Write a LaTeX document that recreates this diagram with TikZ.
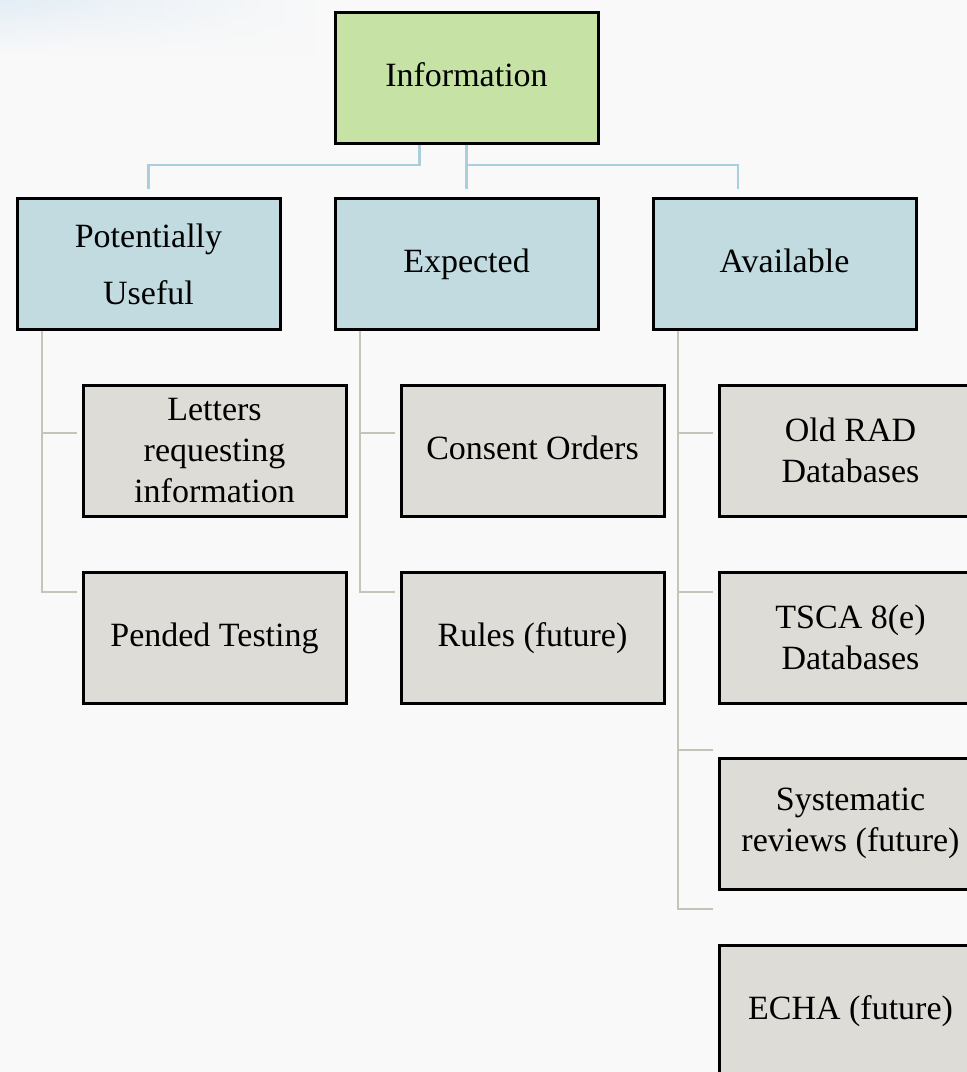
\documentclass[tikz,border=0pt]{standalone}
\usepackage{fontspec}
\setmainfont{Liberation Serif}
\usepackage{tikz}
\usetikzlibrary{calc,fadings}

\definecolor{bgcol}{RGB}{249,249,249}
\definecolor{topfill}{RGB}{198,226,165}
\definecolor{midfill}{RGB}{193,219,225}
\definecolor{leaffill}{RGB}{221,220,214}
\definecolor{bluelinkcol}{RGB}{168,207,218}
\definecolor{graylinkcol}{RGB}{196,196,184}
\definecolor{glowcol}{RGB}{228,238,246}

\begin{document}
\begin{tikzpicture}[x=1pt,y=-1pt,
    box/.style={draw=black,line width=3pt,rectangle,minimum width=263pt,minimum height=131pt,
      inner sep=2pt,align=center,font=\fontsize{34}{41}\selectfont},
    oneline/.style={text height=24pt,text depth=7pt},
    topbox/.style={box,fill=topfill},
    midbox/.style={box,fill=midfill},
    leafbox/.style={box,fill=leaffill},
    bluelink/.style={draw=bluelinkcol,line width=2.8pt},
    graylink/.style={draw=graylinkcol,line width=2.8pt}]
    \useasboundingbox (0,0) rectangle (967,1072);
    \clip (0,0) rectangle (967,1072);
    % background
    \fill[bgcol] (0,0) rectangle (967,1072);
    \shade[left color=glowcol,right color=bgcol,path fading=south] (0,0) rectangle (330,55);
    % top and second level
    \node[topbox,oneline] (info) at (466.5,77.5) {Information};
    \node[midbox] (useful) at (148.5,264) {Potentially\\[16pt]Useful};
    \node[midbox,oneline] (expected) at (466.5,264) {Expected};
    \node[midbox,oneline] (available) at (784.5,264) {Available};
    % leaves
    \node[leafbox] (letters) at (214.5,450.5) {Letters\\requesting\\information};
    \node[leafbox,oneline] (pended) at (214.5,637.5) {Pended Testing};
    \node[leafbox,oneline] (consent) at (532.5,450.5) {Consent Orders};
    \node[leafbox,oneline] (rules) at (532.5,637.5) {Rules (future)};
    \node[leafbox] (oldrad) at (850.5,450.5) {Old RAD\\Databases};
    \node[leafbox] (tsca) at (850.5,637.5) {TSCA 8(e)\\Databases};
    \node[leafbox] (systematic) at (850.5,823.5) {Systematic\\reviews (future)};
    \node[leafbox,oneline] (echa) at (850.5,1010.5) {ECHA (future)};
    % blue links from the top box
    \draw[bluelink] ([xshift=-47pt]info.south) |- ([yshift=32pt]useful.north) -- ([yshift=8pt]useful.north);
    \draw[bluelink] (info.south) -- ([yshift=8pt]expected.north);
    \draw[bluelink] ([yshift=32pt]expected.north) -| ([xshift=-46.5pt,yshift=8pt]available.north);
    % gray links to the leaves
    \foreach \p/\c/\dy in {useful/letters/17.5, useful/pended/45.5,
        expected/consent/17.5, expected/rules/45.5,
        available/oldrad/17.5, available/tsca/45.5, available/systematic/73.5, available/echa/101.5}{
      \draw[graylink] ([xshift=26.5pt]\p.south west) |- ([xshift=-5pt,yshift=\dy pt]\c.west);
    }
\end{tikzpicture}
\end{document}
